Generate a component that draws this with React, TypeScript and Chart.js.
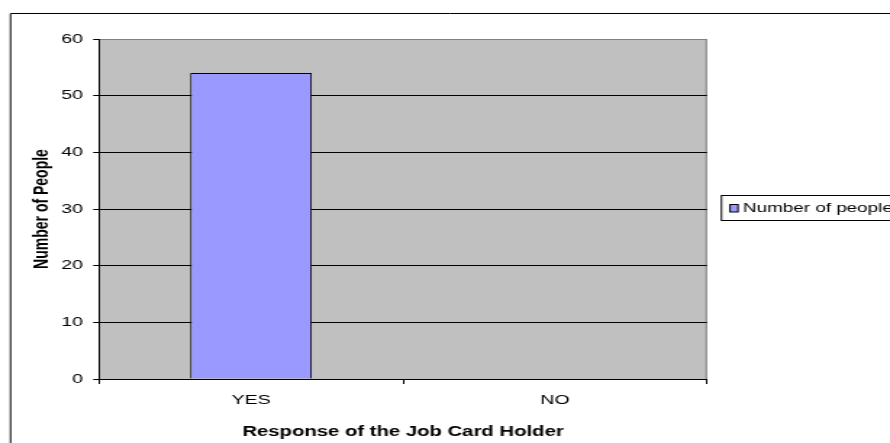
import { useEffect, useRef } from 'react';
import { Chart, registerables } from 'chart.js';

Chart.register(...registerables);

const categories = ['YES', 'NO'];
const seriesLabel = 'Number of people';
const values = [54, 0];
const yTicks = [0, 10, 20, 30, 40, 50, 60];
const xAxisTitle = 'Response of the Job Card Holder';
const yAxisTitle = 'Number of People';

const W = 890;
const H = 443;
const CW = 614;
const SX = W / CW;
const FONT = '"Liberation Sans", Arial, sans-serif';

export default function App() {
  const ref = useRef<HTMLCanvasElement>(null);

  useEffect(() => {
    const canvas = ref.current;
    if (!canvas) return;
    const sx = (v: number) => v / SX;

    const framePlugin = {
      id: 'frame',
      beforeDraw(chart: any) {
        const { ctx, chartArea: a } = chart;
        ctx.save();
        ctx.fillStyle = '#ffffff';
        ctx.fillRect(0, 0, chart.width, chart.height);
        ctx.fillStyle = '#C0C0C0';
        ctx.fillRect(a.left, a.top, a.right - a.left, a.bottom - a.top);
        ctx.strokeStyle = '#808080';
        ctx.lineWidth = 1;
        ctx.beginPath();
        ctx.moveTo(a.left, a.top + 0.5);
        ctx.lineTo(a.right - 0.5, a.top + 0.5);
        ctx.lineTo(a.right - 0.5, a.bottom);
        ctx.stroke();
        ctx.strokeStyle = '#000000';
        ctx.beginPath();
        ctx.moveTo(sx(10.5), chart.height);
        ctx.lineTo(sx(10.5), 13.5);
        ctx.lineTo(chart.width, 13.5);
        ctx.stroke();
        ctx.restore();
      },
      afterDraw(chart: any) {
        const { ctx } = chart;
        const ds = chart.data.datasets[0];
        ctx.save();
        ctx.strokeStyle = '#000000';
        ctx.lineWidth = 1;
        ctx.strokeRect(sx(721.5), 195.5, chart.width, 25);
        ctx.fillStyle = ds.backgroundColor;
        ctx.fillRect(sx(730), 204, sx(8), 8);
        ctx.strokeRect(sx(730), 204.5, sx(8), 7.5);
        ctx.fillStyle = '#000000';
        ctx.font = `13px ${FONT}`;
        ctx.textBaseline = 'middle';
        ctx.textAlign = 'left';
        ctx.fillText(ds.label, sx(743), 208.5);
        ctx.restore();
      },
    };

    const chart = new Chart(canvas, {
      type: 'bar',
      data: {
        labels: categories,
        datasets: [
          {
            label: seriesLabel,
            data: values,
            backgroundColor: '#9999FF',
            borderColor: '#000000',
            borderWidth: 1,
            barPercentage: 0.4,
            categoryPercentage: 1,
          },
        ],
      },
      options: {
        animation: false,
        responsive: false,
        devicePixelRatio: 1,
        layout: { padding: { left: 0, right: CW - sx(707), top: 39, bottom: 0 } },
        plugins: { legend: { display: false }, tooltip: { enabled: false } },
        scales: {
          x: {
            type: 'category',
            offset: true,
            grid: {
              display: true,
              offset: true,
              drawOnChartArea: false,
              drawTicks: true,
              tickLength: 5,
              color: '#000000',
              tickColor: '#000000',
            },
            border: { color: '#000000', width: 1 },
            ticks: { color: '#000000', font: { family: FONT, size: 13.5 }, padding: 8, maxRotation: 0 },
            title: {
              display: true,
              text: xAxisTitle,
              color: '#000000',
              font: { family: FONT, size: 14, weight: 'bold' },
              padding: { top: 0, bottom: 2 },
            },
            afterFit: (s: any) => {
              s.height = H - 379;
            },
          },
          y: {
            min: yTicks[0],
            max: yTicks[yTicks.length - 1],
            afterBuildTicks: (s: any) => {
              s.ticks = yTicks.map((v) => ({ value: v }));
            },
            grid: {
              color: (c: any) => (c.tick && c.tick.value === yTicks[yTicks.length - 1] ? '#808080' : '#000000'),
              tickColor: '#000000',
              tickLength: 4,
            },
            border: { color: '#000000', width: 1 },
            ticks: { color: '#000000', font: { family: FONT, size: 13.5 }, padding: 7 },
            title: {
              display: true,
              text: yAxisTitle,
              color: '#000000',
              font: { family: FONT, size: 14, weight: 'bold' },
              padding: { top: 21, bottom: 0 },
            },
            afterFit: (s: any) => {
              s.width = sx(99);
            },
          },
        },
      },
      plugins: [framePlugin],
    } as any);

    return () => chart.destroy();
  }, []);

  return (
    <div style={{ position: 'fixed', left: 0, top: 0, width: W, height: H, overflow: 'hidden', background: '#fff' }}>
      <canvas
        ref={ref}
        width={CW}
        height={H}
        style={{ display: 'block', width: CW, height: H, transform: `scaleX(${SX})`, transformOrigin: '0 0' }}
      />
    </div>
  );
}
